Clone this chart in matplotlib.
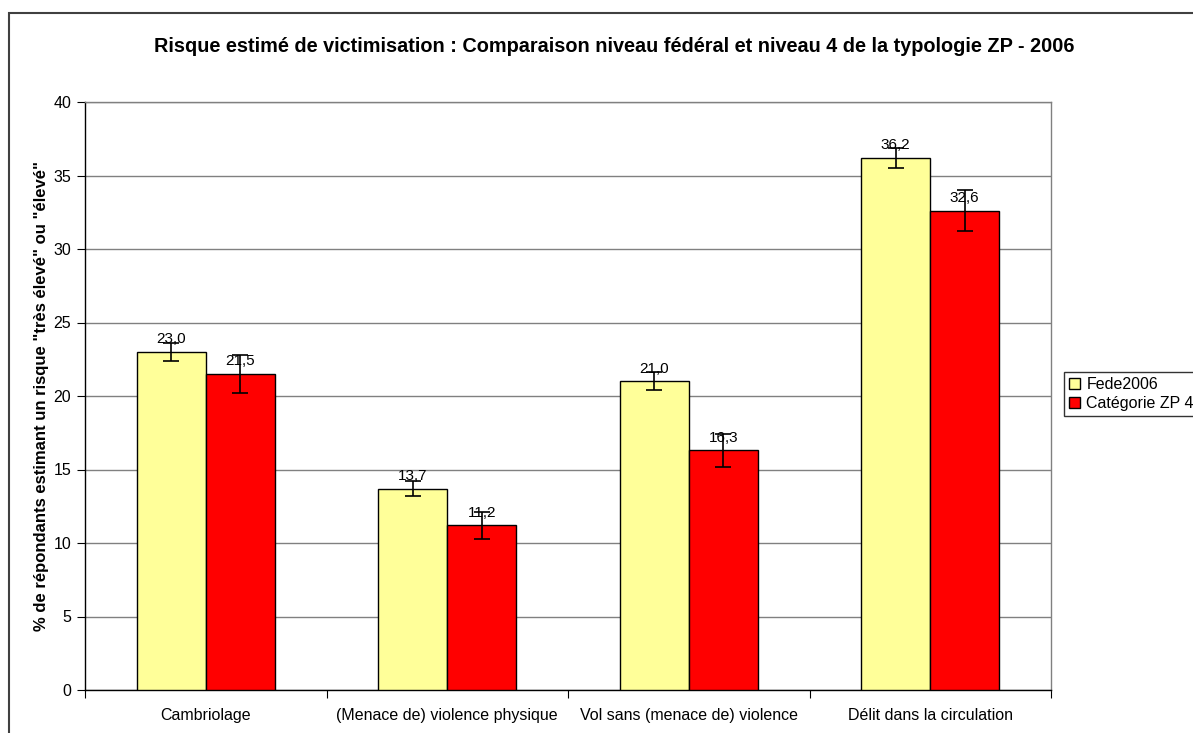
import numpy as np
import matplotlib.pyplot as plt
from matplotlib.patches import Rectangle

plt.rcParams['font.family'] = ['Liberation Sans', 'DejaVu Sans']

categories = ["Cambriolage", "(Menace de) violence physique",
              "Vol sans (menace de) violence", "Délit dans la circulation"]
fede = [23.0, 13.7, 21.0, 36.2]
fede_err = [0.63, 0.53, 0.6, 0.7]
zp4 = [21.5, 11.2, 16.3, 32.6]
zp4_err = [1.3, 0.9, 1.1, 1.4]
series_names = ["Fede2006", "Catégorie ZP 4"]

W, H = 1193, 733
fig = plt.figure(figsize=(W / 100, H / 100), dpi=100)
# plot area in pixels: x 85..1051, y 102..690
ax = fig.add_axes([85 / W, 1 - 690 / H, (1051 - 85) / W, (690 - 102) / H])

# outer chart frame (cut by the picture edge on right and bottom)
fig.patches.append(Rectangle((9 / W, -0.05), 1.2, 1 - 12.5 / H + 0.05,
                             transform=fig.transFigure, fill=False,
                             edgecolor='#404040', lw=1.5, zorder=0))

x = np.arange(len(categories))
bw = 1 / 3.5
err_kw = dict(ecolor='black', elinewidth=1.2, capsize=6, capthick=1.2)
b1 = ax.bar(x - bw / 2, fede, bw, color='#ffff99', edgecolor='black', lw=1,
            yerr=fede_err, error_kw=err_kw, label=series_names[0], zorder=3)
b2 = ax.bar(x + bw / 2, zp4, bw, color='#ff0000', edgecolor='black', lw=1,
            yerr=zp4_err, error_kw=err_kw, label=series_names[1], zorder=3)

for bars, vals in ((b1, fede), (b2, zp4)):
    for r, v in zip(bars, vals):
        ax.annotate(f"{v:.1f}".replace('.', ','),
                    (r.get_x() + r.get_width() / 2, v),
                    xytext=(0, 4), textcoords='offset points',
                    ha='center', va='bottom', fontsize=11, zorder=5)

ax.set_xlim(-0.5, len(categories) - 0.5)
ax.set_ylim(0, 40)
ax.set_yticks(np.arange(0, 41, 5))
ax.yaxis.grid(True, color='#808080', lw=1)
ax.set_axisbelow(True)
ax.set_xticks(np.arange(len(categories) + 1) - 0.5)
ax.set_xticklabels([])
ax.set_xticks(x, minor=True)
ax.set_xticklabels(categories, minor=True, fontsize=11.5)
ax.tick_params(axis='x', which='minor', length=0, pad=13)
ax.tick_params(axis='x', which='major', length=6, direction='out')
ax.tick_params(axis='y', length=6, direction='out', labelsize=11.5, pad=4)
for s in ax.spines.values():
    s.set_color('black')
    s.set_linewidth(1)
ax.spines['top'].set_color('#808080')
ax.spines['right'].set_color('#808080')

ax.set_ylabel('% de répondants estimant un risque "très élevé" ou "élevé"',
              fontsize=12, fontweight='bold', labelpad=3)

fig.text(614 / W, 1 - 47 / H,
         "Risque estimé de victimisation : Comparaison niveau fédéral et niveau 4 de la typologie ZP - 2006",
         ha='center', va='center', fontsize=14.3, fontweight='bold')

leg = fig.legend(handles=[b1, b2], loc='upper left',
                 bbox_to_anchor=(1064 / W, 1 - 372 / H),
                 frameon=True, fancybox=False, fontsize=11.5,
                 handlelength=0.7, handleheight=0.7, handletextpad=0.4,
                 borderpad=0.3, labelspacing=0.25, borderaxespad=0)
leg.get_frame().set_edgecolor('black')
leg.get_frame().set_linewidth(1)

fig.savefig('out.png', dpi=100)
